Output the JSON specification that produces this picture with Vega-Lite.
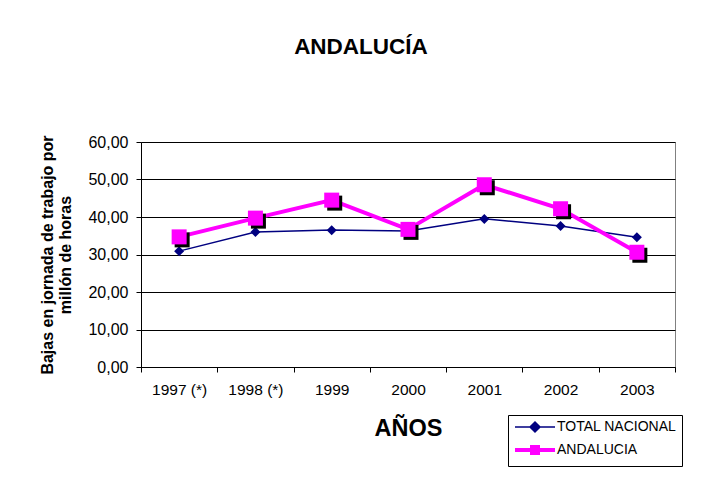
{
  "$schema": "https://vega.github.io/schema/vega-lite/v6.json",
  "width": 534,
  "height": 225,
  "autosize": {"type": "none"},
  "padding": {"left": 141, "top": 142, "right": 37, "bottom": 110},
  "background": "white",
  "title": {"text": "ANDALUCÍA", "fontSize": 22.5, "fontWeight": "bold", "font": "Liberation Sans", "color": "black", "anchor": "middle", "frame": "group", "dx": -47, "offset": 76},
  "config": {
    "font": "Liberation Sans",
    "view": {"stroke": "#808080"},
    "locale": {"number": {"decimal": ",", "thousands": ".", "grouping": [3], "currency": ["", " €"]}}
  },
  "data": {"values": [
    {"anio": "1997 (*)", "serie": "TOTAL NACIONAL", "valor": 30.9},
    {"anio": "1998 (*)", "serie": "TOTAL NACIONAL", "valor": 36.0},
    {"anio": "1999", "serie": "TOTAL NACIONAL", "valor": 36.5},
    {"anio": "2000", "serie": "TOTAL NACIONAL", "valor": 36.3},
    {"anio": "2001", "serie": "TOTAL NACIONAL", "valor": 39.5},
    {"anio": "2002", "serie": "TOTAL NACIONAL", "valor": 37.6},
    {"anio": "2003", "serie": "TOTAL NACIONAL", "valor": 34.6},
    {"anio": "1997 (*)", "serie": "ANDALUCIA", "valor": 34.7},
    {"anio": "1998 (*)", "serie": "ANDALUCIA", "valor": 39.7},
    {"anio": "1999", "serie": "ANDALUCIA", "valor": 44.5},
    {"anio": "2000", "serie": "ANDALUCIA", "valor": 36.7},
    {"anio": "2001", "serie": "ANDALUCIA", "valor": 48.6},
    {"anio": "2002", "serie": "ANDALUCIA", "valor": 42.2},
    {"anio": "2003", "serie": "ANDALUCIA", "valor": 30.6}
  ]},
  "encoding": {
    "x": {"field": "anio", "type": "ordinal", "sort": null,
      "scale": {"type": "band", "paddingInner": 0, "paddingOuter": 0},
      "axis": {"title": "AÑOS", "titleFontSize": 23.5, "titleFontWeight": "bold", "titleColor": "black", "titlePadding": 19,
        "labelFontSize": 15.5, "labelColor": "black", "labelPadding": 10, "labelAngle": 0,
        "tickSize": 5, "tickBand": "extent", "tickColor": "black", "domainColor": "black", "grid": false}},
    "y": {"field": "valor", "type": "quantitative",
      "scale": {"domain": [0, 60], "nice": false},
      "axis": {"title": ["Bajas en jornada de trabajo por", "millón de horas"], "titleFontSize": 16, "titleFontWeight": "bold", "titleColor": "black", "titleLineHeight": 18.5, "titlePadding": 14,
        "values": [0, 10, 20, 30, 40, 50, 60], "format": ".2f",
        "labelFontSize": 16, "labelColor": "black", "labelPadding": 8,
        "tickSize": 5, "tickColor": "black", "domainColor": "black", "grid": true, "gridColor": "black", "gridOpacity": 1}}
  },
  "layer": [
    {
      "mark": {"type": "line"},
      "encoding": {
        "color": {"field": "serie", "type": "nominal",
          "scale": {"domain": ["TOTAL NACIONAL", "ANDALUCIA"], "range": ["#000080", "#ff00ff"]},
          "legend": {"title": null, "orient": "none", "legendX": 367, "legendY": 273,
            "labelFontSize": 14, "labelColor": "black", "strokeColor": "black", "fillColor": "white",
            "padding": 5, "symbolSize": 100, "rowPadding": 4, "labelOffset": 30,
            "encode": {"symbols": {"update": {
              "shape": {"signal": "datum.value === 'ANDALUCIA' ? 'M-1,0L7,0M2.4,-0.6L3.6,-0.6L3.6,0.6L2.4,0.6Z' : 'M-1,0L7,0M3,-1L4,0L3,1L2,0Z'"},
              "fill": {"signal": "datum.value === 'ANDALUCIA' ? '#ff00ff' : '#000080'"},
              "strokeWidth": {"signal": "datum.value === 'ANDALUCIA' ? 4 : 1.5"},
              "opacity": {"value": 1}
            }}}}},
        "strokeWidth": {"field": "serie", "type": "nominal",
          "scale": {"domain": ["TOTAL NACIONAL", "ANDALUCIA"], "range": [1.5, 4]}, "legend": null}
      }
    },
    {
      "transform": [{"filter": "datum.serie === 'TOTAL NACIONAL'"}],
      "mark": {"type": "point", "shape": "diamond", "filled": true, "size": 100, "color": "#000080", "opacity": 1}
    },
    {
      "transform": [{"filter": "datum.serie === 'ANDALUCIA'"}],
      "mark": {"type": "point", "shape": "square", "filled": true, "size": 225, "color": "black", "opacity": 1, "xOffset": 3, "yOffset": 3}
    },
    {
      "transform": [{"filter": "datum.serie === 'ANDALUCIA'"}],
      "mark": {"type": "point", "shape": "square", "filled": true, "size": 225, "color": "#ff00ff", "opacity": 1}
    }
  ]
}
